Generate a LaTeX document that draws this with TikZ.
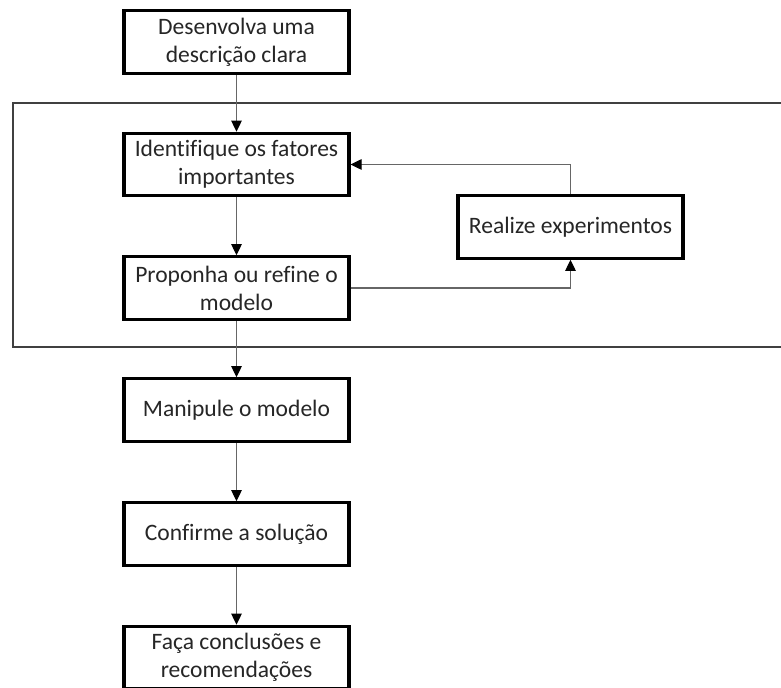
\documentclass[tikz,border=0pt]{standalone}
\usepackage{fontspec}
\setmainfont{Carlito}[Ligatures=NoCommon]
\usetikzlibrary{arrows.meta}

\begin{document}
\begin{tikzpicture}[x=0.02cm, y=-0.02cm, >={Triangle[width=0.21cm,length=0.22cm,color=black]},
  passo/.style={draw=black, line width=1.8pt, fill=white, minimum width=4.5cm, minimum height=1.25cm,
    align=center, inner sep=0pt, text=black!85, font=\fontsize{13.4}{16}\selectfont},
  liga/.style={->, draw=black!60, line width=0.6pt}]
\clip (0,0) rectangle (781,688);
\useasboundingbox (0,0) rectangle (781,688);

\draw[black!75, line width=1pt] (13,103) rectangle (800,347);

\node[passo] (desc) at (236.5,42) {Desenvolva uma\\descrição clara};
\node[passo] (fatores) at (236.5,164.5) {Identifique os fatores\\importantes};
\node[passo] (modelo) at (236.5,288) {Proponha ou refine o\\modelo};
\node[passo] (exper) at (570.5,227) {Realize experimentos};
\node[passo] (manip) at (236.5,410) {Manipule o modelo};
\node[passo] (confirme) at (236.5,534) {Confirme a solução};
\node[passo] (conclusoes) at (236.5,657.5) {Faça conclusões e\\recomendações};

\draw[liga] (desc) -- (fatores);
\draw[liga] (fatores) -- (modelo);
\draw[liga] (modelo) -- (manip);
\draw[liga] (manip) -- (confirme);
\draw[liga] (confirme) -- (conclusoes);
\draw[liga] (modelo.east) -| (exper.south);
\draw[liga] (exper.north) |- (fatores.east);
\end{tikzpicture}
\end{document}
